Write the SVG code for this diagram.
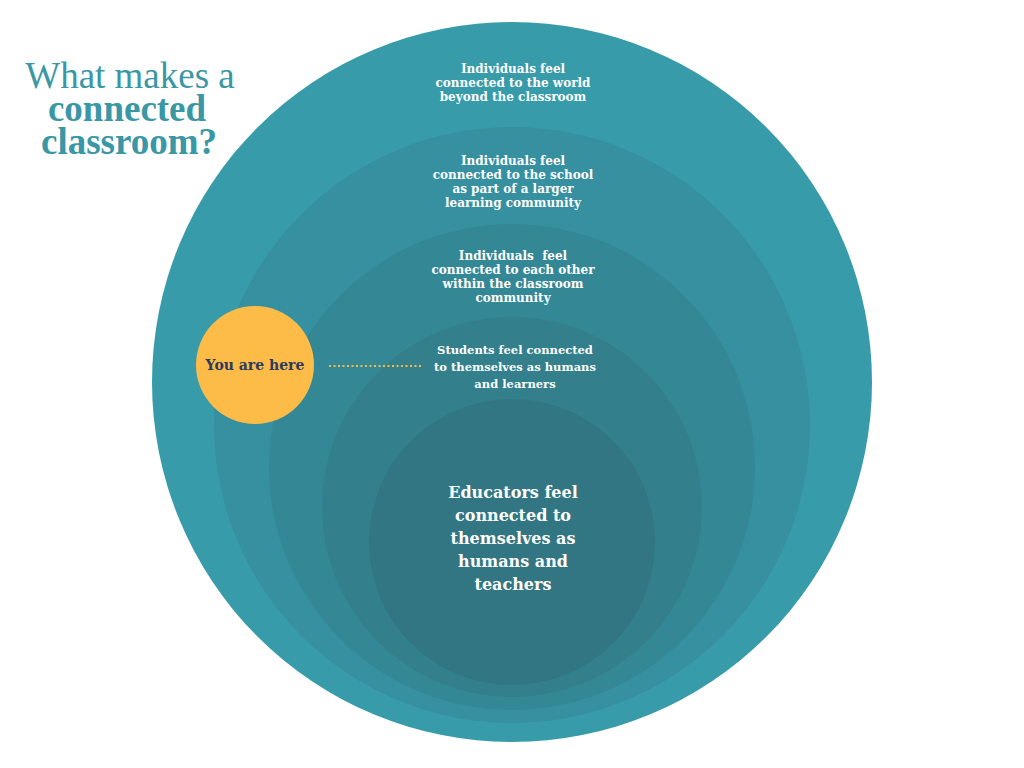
<svg xmlns="http://www.w3.org/2000/svg" width="1024" height="768" viewBox="0 0 1024 768">
<style>
.title{font-family:"Liberation Serif",serif;fill:#3A97A5;font-size:37px;text-anchor:middle}
.lbl{font-family:"DejaVu Serif","Liberation Serif",serif;fill:#ffffff;font-weight:bold;font-size:12px;text-anchor:middle}
.sm{font-size:11.5px}
.big{font-size:16px}
.you{font-family:"DejaVu Serif","Liberation Serif",serif;fill:#2B3A5E;font-weight:bold;font-size:14px;text-anchor:middle}
</style>
<rect width="1024" height="768" fill="#ffffff"/>
<g id="title">
<text class="title" x="130" y="88">What makes a</text>
<text class="title" x="127" y="121" font-weight="bold" font-size="36">connected</text>
<text class="title" x="129" y="154" font-weight="bold" font-size="36">classroom?</text>
</g>
<g id="ring-world">
<circle cx="512" cy="382" r="360" fill="#389BAA"/>
<text class="lbl" x="513" y="73">Individuals feel</text>
<text class="lbl" x="513" y="87">connected to the world</text>
<text class="lbl" x="513" y="101">beyond the classroom</text>
</g>
<g id="ring-school">
<circle cx="512" cy="425" r="298" fill="#3690A0"/>
<text class="lbl" x="513" y="165">Individuals feel</text>
<text class="lbl" x="513" y="179">connected to the school</text>
<text class="lbl" x="513" y="193">as part of a larger</text>
<text class="lbl" x="513" y="207">learning community</text>
</g>
<g id="ring-classroom">
<circle cx="512" cy="467" r="243" fill="#348896"/>
<text class="lbl" x="513" y="260" xml:space="preserve">Individuals  feel</text>
<text class="lbl" x="513" y="274">connected to each other</text>
<text class="lbl" x="513" y="288">within the classroom</text>
<text class="lbl" x="513" y="302">community</text>
</g>
<g id="ring-students">
<circle cx="512" cy="507" r="190" fill="#337F8B"/>
<text class="lbl sm" x="515" y="354">Students feel connected</text>
<text class="lbl sm" x="515" y="371">to themselves as humans</text>
<text class="lbl sm" x="515" y="388">and learners</text>
</g>
<g id="ring-educators">
<circle cx="512" cy="542" r="143" fill="#317682"/>
<text class="lbl big" x="513" y="498">Educators feel</text>
<text class="lbl big" x="513" y="521">connected to</text>
<text class="lbl big" x="513" y="544">themselves as</text>
<text class="lbl big" x="513" y="567">humans and</text>
<text class="lbl big" x="513" y="590">teachers</text>
</g>
<g id="you-are-here">
<circle cx="255" cy="365" r="59" fill="#FDBC48"/>
<text class="you" x="255" y="370">You are here</text>
</g>
<g id="connectors">
<line x1="329" y1="366" x2="421" y2="366" stroke="#F7B947" stroke-width="2" stroke-dasharray="2 2.5"/>
</g>
</svg>
